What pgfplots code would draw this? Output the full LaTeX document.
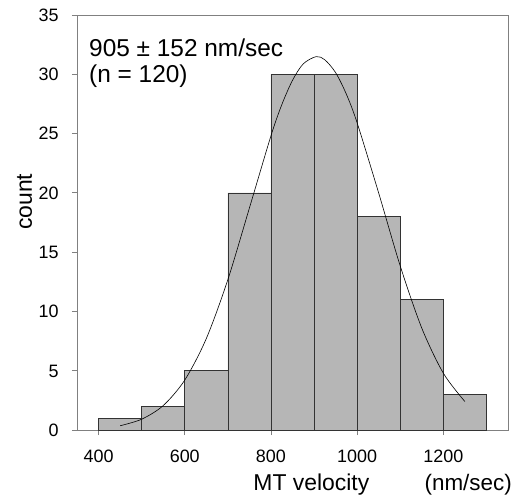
\documentclass[border=0pt]{standalone}
\usepackage{pgfplots}
\pgfplotsset{compat=1.18}
\usepackage{fontspec}
\setmainfont{Liberation Sans}
\definecolor{bargray}{RGB}{182,182,182}
\definecolor{axgray}{RGB}{128,128,128}
\begin{document}
\begin{tikzpicture}
\begin{axis}[
  scale only axis,
  width=431bp, height=415bp,
  xmin=350, xmax=1350, ymin=0, ymax=35,
  xtick={400,600,800,1000,1200},
  ytick={0,5,10,15,20,25,30,35},
  tick align=outside,
  xtick pos=bottom, ytick pos=left,
  major tick length=5bp,
  axis line style={axgray, line width=0.9pt},
  every tick/.style={axgray, line width=0.8pt},
  tick label style={font=\fontsize{18}{20}\selectfont, black},
  xticklabel style={anchor=base, yshift=-27.7bp},
  yticklabel style={anchor=base east, xshift=-10bp, yshift=-6.4bp},
  /pgf/number format/assume math mode=true,
  /pgf/number format/1000 sep={},
  clip=false,
]
\path[use as bounding box] ([xshift=-77bp,yshift=-71bp]rel axis cs:0,0) rectangle ([xshift=9bp,yshift=15bp]rel axis cs:1,1);
\addplot[ybar interval, fill=bargray, draw=black!80, line width=0.7pt]
coordinates {(400,1) (500,2) (600,5) (700,20) (800,30) (900,30) (1000,18) (1100,11) (1200,3) (1300,0)};
\addplot[smooth, black, line width=0.6pt, mark=none] coordinates {
(450,0.36) (500,0.91) (550,2.06) (600,4.21) (650,7.71) (700,12.68) (750,18.72)
(800,24.81) (825,27.42) (850,29.49) (875,30.88) (905,31.49) (925,31.22) (950,30.14) (975,28.32)
(1000,25.90) (1050,19.98) (1100,13.83) (1150,8.59) (1200,4.79) (1250,2.40)};
\node[anchor=base west, font=\fontsize{24.5}{27}\selectfont, inner sep=0pt]
  at ([xshift=12bp,yshift=-41.7bp]rel axis cs:0,1) {905 ± 152 nm/sec};
\node[anchor=base west, font=\fontsize{24.5}{27}\selectfont, inner sep=0pt]
  at ([xshift=12bp,yshift=-68bp]rel axis cs:0,1) {(n = 120)};
\node[rotate=90, anchor=base, font=\fontsize{23}{25}\selectfont, inner sep=0pt]
  at ([xshift=-45bp]rel axis cs:0,0.55) {count};
\node[font=\fontsize{23}{25}\selectfont, anchor=base west, inner sep=0pt] at ([yshift=-60bp]axis cs:759,0) {MT velocity};
\node[font=\fontsize{22.5}{25}\selectfont, anchor=base east, inner sep=0pt] at ([xshift=4bp,yshift=-60bp]rel axis cs:1,0) {(nm/sec)};
\end{axis}
\end{tikzpicture}
\end{document}
